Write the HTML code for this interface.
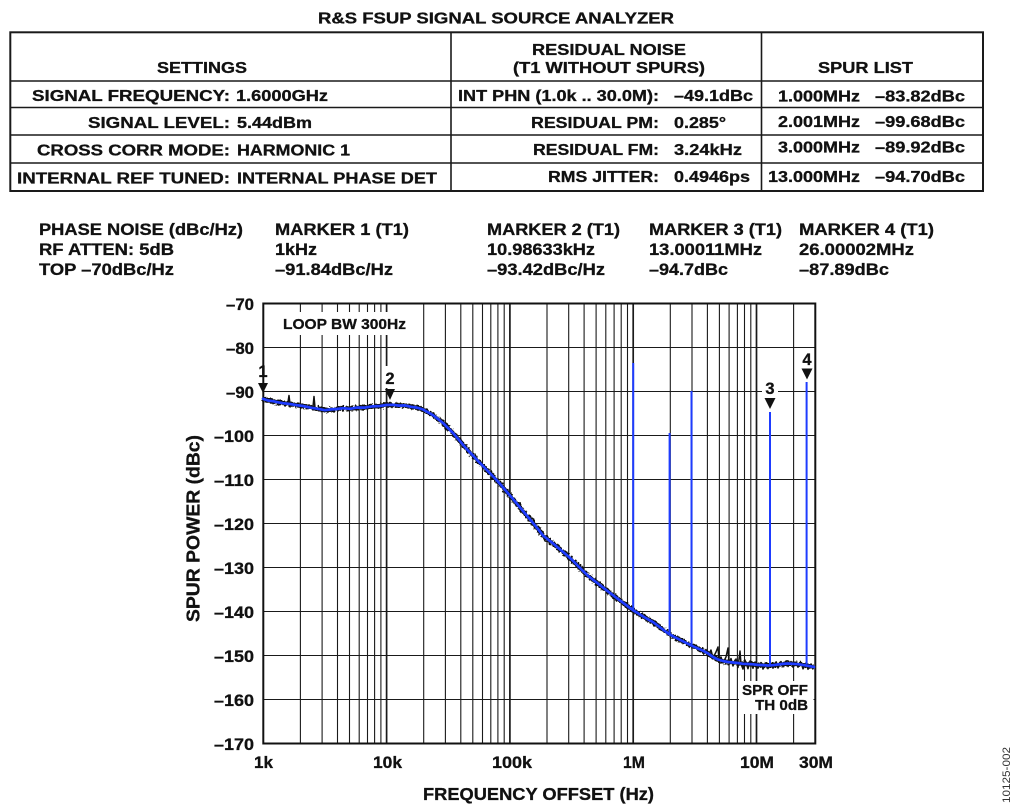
<!DOCTYPE html>
<html>
<head>
<meta charset="utf-8">
<style>
html,body{margin:0;padding:0;background:#fff;}
svg{display:block;}
.b{stroke:#111;stroke-width:0.3px;}
</style>
</head>
<body>
<svg width="1024" height="811" viewBox="0 0 1024 811" xmlns="http://www.w3.org/2000/svg" font-family="'Liberation Sans', Arial, sans-serif" font-weight="bold" fill="#111">
<defs>
  <filter id="rough" filterUnits="userSpaceOnUse" x="240" y="370" width="600" height="320">
    <feTurbulence type="fractalNoise" baseFrequency="0.45" numOctaves="2" seed="3" result="n"/>
    <feDisplacementMap in="SourceGraphic" in2="n" scale="5" xChannelSelector="R" yChannelSelector="G"/>
  </filter>
</defs>
<rect x="0" y="0" width="1024" height="811" fill="#fff"/>

<!-- Title -->
<text class="b" x="318" y="23.5" font-size="15.5" textLength="356" lengthAdjust="spacingAndGlyphs">R&amp;S FSUP SIGNAL SOURCE ANALYZER</text>

<!-- Table -->
<g stroke="#1a1a1a" fill="none">
  <rect x="10.3" y="32.3" width="972.7" height="158.7" stroke-width="2"/>
  <line x1="10" y1="81" x2="983" y2="81" stroke-width="1.6"/>
  <line x1="10" y1="107.5" x2="983" y2="107.5" stroke-width="1.6"/>
  <line x1="10" y1="135" x2="983" y2="135" stroke-width="1.6"/>
  <line x1="10" y1="163" x2="983" y2="163" stroke-width="1.6"/>
  <line x1="451" y1="32" x2="451" y2="191" stroke-width="1.6"/>
  <line x1="761.5" y1="32" x2="761.5" y2="191" stroke-width="1.6"/>
</g>
<g font-size="15.5" class="b">
  <text x="157" y="73" textLength="90" lengthAdjust="spacingAndGlyphs">SETTINGS</text>
  <text x="532" y="55" textLength="154" lengthAdjust="spacingAndGlyphs">RESIDUAL NOISE</text>
  <text x="513" y="73" textLength="192" lengthAdjust="spacingAndGlyphs">(T1 WITHOUT SPURS)</text>
  <text x="818" y="73" textLength="95" lengthAdjust="spacingAndGlyphs">SPUR LIST</text>

  <text x="32" y="101" textLength="198" lengthAdjust="spacingAndGlyphs">SIGNAL FREQUENCY:</text>
  <text x="236" y="101" textLength="92" lengthAdjust="spacingAndGlyphs">1.6000GHz</text>
  <text x="458" y="101" textLength="201" lengthAdjust="spacingAndGlyphs">INT PHN (1.0k .. 30.0M):</text>
  <text x="674" y="101" textLength="79" lengthAdjust="spacingAndGlyphs">–49.1dBc</text>
  <text x="778" y="101.5" textLength="82" lengthAdjust="spacingAndGlyphs">1.000MHz</text>
  <text x="875" y="101.5" textLength="90" lengthAdjust="spacingAndGlyphs">–83.82dBc</text>

  <text x="88" y="128" textLength="142" lengthAdjust="spacingAndGlyphs">SIGNAL LEVEL:</text>
  <text x="237" y="128" textLength="75" lengthAdjust="spacingAndGlyphs">5.44dBm</text>
  <text x="531" y="128" textLength="128" lengthAdjust="spacingAndGlyphs">RESIDUAL PM:</text>
  <text x="674" y="128" textLength="52" lengthAdjust="spacingAndGlyphs">0.285°</text>
  <text x="778" y="127" textLength="82" lengthAdjust="spacingAndGlyphs">2.001MHz</text>
  <text x="875" y="127" textLength="90" lengthAdjust="spacingAndGlyphs">–99.68dBc</text>

  <text x="37" y="155.5" textLength="193" lengthAdjust="spacingAndGlyphs">CROSS CORR MODE:</text>
  <text x="237" y="155.5" textLength="113" lengthAdjust="spacingAndGlyphs">HARMONIC 1</text>
  <text x="533" y="155" textLength="126" lengthAdjust="spacingAndGlyphs">RESIDUAL FM:</text>
  <text x="674" y="155" textLength="68" lengthAdjust="spacingAndGlyphs">3.24kHz</text>
  <text x="778" y="152.5" textLength="82" lengthAdjust="spacingAndGlyphs">3.000MHz</text>
  <text x="875" y="152.5" textLength="90" lengthAdjust="spacingAndGlyphs">–89.92dBc</text>

  <text x="17" y="183.5" textLength="213" lengthAdjust="spacingAndGlyphs">INTERNAL REF TUNED:</text>
  <text x="237" y="183.5" textLength="200" lengthAdjust="spacingAndGlyphs">INTERNAL PHASE DET</text>
  <text x="548" y="182" textLength="111" lengthAdjust="spacingAndGlyphs">RMS JITTER:</text>
  <text x="674" y="182" textLength="76" lengthAdjust="spacingAndGlyphs">0.4946ps</text>
  <text x="768" y="182" textLength="92" lengthAdjust="spacingAndGlyphs">13.000MHz</text>
  <text x="875" y="182" textLength="90" lengthAdjust="spacingAndGlyphs">–94.70dBc</text>
</g>

<!-- Marker header -->
<g font-size="17" class="b">
  <text x="39" y="235" textLength="204" lengthAdjust="spacingAndGlyphs">PHASE NOISE (dBc/Hz)</text>
  <text x="39" y="255" textLength="135" lengthAdjust="spacingAndGlyphs">RF ATTEN: 5dB</text>
  <text x="39" y="275" textLength="135" lengthAdjust="spacingAndGlyphs">TOP –70dBc/Hz</text>

  <text x="275" y="235" textLength="134" lengthAdjust="spacingAndGlyphs">MARKER 1 (T1)</text>
  <text x="275" y="255" textLength="42" lengthAdjust="spacingAndGlyphs">1kHz</text>
  <text x="275" y="275" textLength="118" lengthAdjust="spacingAndGlyphs">–91.84dBc/Hz</text>

  <text x="487" y="235" textLength="133" lengthAdjust="spacingAndGlyphs">MARKER 2 (T1)</text>
  <text x="487" y="255" textLength="108" lengthAdjust="spacingAndGlyphs">10.98633kHz</text>
  <text x="487" y="275" textLength="118" lengthAdjust="spacingAndGlyphs">–93.42dBc/Hz</text>

  <text x="649" y="235" textLength="133" lengthAdjust="spacingAndGlyphs">MARKER 3 (T1)</text>
  <text x="649" y="255" textLength="113" lengthAdjust="spacingAndGlyphs">13.00011MHz</text>
  <text x="649" y="275" textLength="79" lengthAdjust="spacingAndGlyphs">–94.7dBc</text>

  <text x="799" y="235" textLength="135" lengthAdjust="spacingAndGlyphs">MARKER 4 (T1)</text>
  <text x="799" y="255" textLength="115" lengthAdjust="spacingAndGlyphs">26.00002MHz</text>
  <text x="799" y="275" textLength="90" lengthAdjust="spacingAndGlyphs">–87.89dBc</text>
</g>

<!-- Grid -->
<g stroke="#1a1a1a" stroke-width="1.1" fill="none">
  <path d="M300.4 303.5V743.5M322.1 303.5V743.5M337.5 303.5V743.5M349.5 303.5V743.5M359.2 303.5V743.5M367.5 303.5V743.5M374.6 303.5V743.5M380.9 303.5V743.5
           M423.7 303.5V743.5M445.4 303.5V743.5M460.8 303.5V743.5M472.8 303.5V743.5M482.5 303.5V743.5M490.8 303.5V743.5M497.9 303.5V743.5M504.2 303.5V743.5
           M547 303.5V743.5M568.7 303.5V743.5M584.1 303.5V743.5M596.1 303.5V743.5M605.8 303.5V743.5M614.1 303.5V743.5M621.2 303.5V743.5M627.5 303.5V743.5
           M670.3 303.5V743.5M692 303.5V743.5M707.4 303.5V743.5M719.4 303.5V743.5M729.1 303.5V743.5M737.4 303.5V743.5M744.5 303.5V743.5M750.8 303.5V743.5
           M793.6 303.5V743.5"/>
  <path d="M263.3 347.5H815.3M263.3 391.5H815.3M263.3 435.5H815.3M263.3 479.5H815.3M263.3 523.5H815.3M263.3 567.5H815.3M263.3 611.5H815.3M263.3 655.5H815.3M263.3 699.5H815.3"/>
  <path stroke-width="1.7" d="M386.6 303.5V743.5M509.9 303.5V743.5M633.2 303.5V743.5M756.5 303.5V743.5"/>
</g>

<!-- white label boxes over grid -->
<g fill="#fff" stroke="none">
  <rect x="279" y="312" width="133" height="23"/>
  <rect x="382" y="366" width="16" height="22"/>
  <rect x="762" y="378" width="16" height="19"/>
  <rect x="799" y="349" width="15" height="19"/>
  <rect x="739" y="681" width="74.5" height="33"/>
</g>

<!-- Plot border -->
<rect x="263.3" y="303.5" width="552" height="440" fill="none" stroke="#111" stroke-width="2"/>

<!-- Black jagged halo (roughened copy of smoothed curve) -->
<polyline filter="url(#rough)" fill="none" stroke="#111" stroke-width="4.6" stroke-linejoin="round" points="263,398.8 268,400.5 273,401.2 278,402.3 283,403.2 290,404 297,405.2 303,406 310,407.6 318,408.8 325,410.2 331,409.4 337,409 343,408.2 350,408.8 357,407.6 365,407.6 372,406.4 380,406 386,405 393,404.8 399,405.6 405,405.4 411,406.8 417,407.6 423,409.5 428,412.3 433,415.2 438,419 443,423 448,428 453,433 458,438.8 463,444.8 468,450.4 473,455.6 478,460.9 483,466 488,471.2 493,476.3 498,481.6 503,487.4 508,493.2 513,499 518,505 523,511 528,517 533,523 538,529 543,535.5 548,539.4 553,543.4 558,547.7 563,551.9 568,556.1 573,560.8 578,565.9 583,570.9 588,575.8 593,579.7 598,583.6 603,587.5 608,591.4 613,595.2 618,599 623,602.7 628,606.5 633,610.2 638,613.2 643,616.4 648,619.3 653,622.1 658,625.8 663,629.6 668,633.3 673,636.3 678,638.8 683,641.3 688,643.8 693,646.3 698,648.5 703,650.7 708,653.4 713,657 718,659.5 723,661 728,662 733,662.5 738,663 743,663.8 748,664 753,664.3 758,664.9 763,665.1 768,665.5 773,665.2 778,664.5 783,663.9 788,663.5 793,663.8 798,664.2 803,664.9 808,665.8 813,667"/>

<!-- Black noisy trace -->
<polyline fill="none" stroke="#111" stroke-width="1.5" stroke-linejoin="round" points="263,398.4 266,401.5 268,402.2 271,400 273,403.7 276,400.5 278,404.4 281,401.8 283,404.6 286,402.5 288,402 289,395.5 290,404 293,406.2 296,403.8 298,407.1 301,404.5 303,407.7 306,405.2 308,408.5 311,405.5 313,406.8 314,396.5 315,407.5 318,410.4 321,407.2 323,410.9 326,408 328,411.9 331,407.9 333,411 336,408 338,410.9 341,406.5 343,410.2 346,407 348,410.5 351,406.8 353,410 356,406.5 358,410 361,405.5 363,409.1 366,405.8 368,408.8 371,404.3 373,408 376,404.6 378,407.9 381,403.8 383,407.2 386,403.5 388,406.9 391,403.2 393,406.6 396,403 398,406.9 401,403.6 403,407.5 406,404.4 408,408 411,404.8 413,409 416,405.8 418,410.3 421,406.5 423,411 426,409.2 428,413.8 431,412.6 433,416.8 436,416 438,421 441,420.5 443,424.5 446,425.8 448,429.8 451,430.5 453,434.5 456,435.5 458,440.8 461,441.2 463,447.1 466,446.8 468,451.9 471,452.8 473,457.3 476,457.9 478,462.9 481,463.5 483,468 486,468.2 488,472.7 491,473.5 493,478.1 496,478.6 498,482.8 501,484.8 503,489.2 506,490.5 508,494.7 511,496 513,500.8 516,502.2 518,506.4 521,508 523,512.4 526,514.4 528,518.8 531,520.2 533,524.5 536,526 538,530.8 541,532 543,536.5 545,541 548,541.5 551,542 553,544.9 556,546 558,549.2 561,550.3 563,553.4 566,554.5 568,557.6 571,558.7 573,562.3 576,563.5 578,567.4 581,568.8 583,572.4 586,573.5 588,577.3 591,578.3 593,581.5 596,582 598,585.1 601,585.9 603,589.3 606,589.7 608,592.9 611,593.5 613,597 616,597.5 618,600.5 621,601.3 623,604.5 626,605 628,608 631,608.7 633,612 636,612 638,614.7 641,614.8 643,618.2 646,617.6 648,620.9 651,620.4 653,624.1 656,624.3 658,627.6 661,628 663,631.1 666,631.6 668,635.1 671,634.6 673,638.1 676,637 678,640.3 681,639.5 683,643.3 686,642.5 688,645.6 691,644.8 693,647.8 696,646.5 698,650.5 701,648.5 703,653.2 706,649.5 708,655.9 711,650 713,658 716,652 718,647 719,661 721,657 723,663 726,657 728,648 729,663 731,658.5 733,666 736,659 738,667.5 740,651 741,664 743,669.1 745,660 748,668.7 750,661 753,668.3 755,662 758,668.2 761,662.5 763,669.1 766,663 768,668.5 771,663 773,668.2 776,662 778,668 781,661.5 783,666.9 786,661 788,666.5 791,661.5 793,667.3 796,662 798,667.2 801,662.5 803,668.9 806,663 808,669.3 811,664 813,669.3"/>

<!-- Blue smoothed trace -->
<polyline fill="none" stroke="#1e3cff" stroke-width="2.7" stroke-linejoin="round" stroke-linecap="round" points="263,398.8 268,400.5 273,401.2 278,402.3 283,403.2 290,404 297,405.2 303,406 310,407.6 318,408.8 325,410.2 331,409.4 337,409 343,408.2 350,408.8 357,407.6 365,407.6 372,406.4 380,406 386,405 393,404.8 399,405.6 405,405.4 411,406.8 417,407.6 423,409.5 428,412.3 433,415.2 438,419 443,423 448,428 453,433 458,438.8 463,444.8 468,450.4 473,455.6 478,460.9 483,466 488,471.2 493,476.3 498,481.6 503,487.4 508,493.2 513,499 518,505 523,511 528,517 533,523 538,529 543,535.5 548,539.4 553,543.4 558,547.7 563,551.9 568,556.1 573,560.8 578,565.9 583,570.9 588,575.8 593,579.7 598,583.6 603,587.5 608,591.4 613,595.2 618,599 623,602.7 628,606.5 633,610.2 638,613.2 643,616.4 648,619.3 653,622.1 658,625.8 663,629.6 668,633.3 673,636.3 678,638.8 683,641.3 688,643.8 693,646.3 698,648.5 703,650.7 708,653.4 713,657 718,659.5 723,661 728,662 733,662.5 738,663 743,663.8 748,664 753,664.3 758,664.9 763,665.1 768,665.5 773,665.2 778,664.5 783,663.9 788,663.5 793,663.8 798,664.2 803,664.9 808,665.8 814,667"/>

<!-- Spurs -->
<g stroke="#1e3cff" stroke-width="2">
  <line x1="633.2" y1="610" x2="633.2" y2="363"/>
  <line x1="669.6" y1="634" x2="669.6" y2="433"/>
  <line x1="691.5" y1="646" x2="691.5" y2="391"/>
  <line x1="770" y1="665" x2="770" y2="412"/>
  <line x1="806.6" y1="664" x2="806.6" y2="382"/>
</g>

<!-- Markers -->
<g fill="#111">
  <polygon points="258,383 268,383 263,393"/>
  <polygon points="385,389 395,389 390,400"/>
  <polygon points="764.5,398 775.5,398 770,409"/>
  <polygon points="801.5,368.5 812.5,368.5 807,379.5"/>
</g>
<g font-size="16.5" text-anchor="middle" class="b">
  <text x="263" y="377">1</text>
  <text x="390" y="384">2</text>
  <text x="770" y="394">3</text>
  <text x="807" y="365">4</text>
</g>

<!-- In-plot annotations -->
<g font-size="15" class="b">
  <text x="283" y="329" textLength="123" lengthAdjust="spacingAndGlyphs">LOOP BW 300Hz</text>
  <text x="742" y="695" textLength="66" lengthAdjust="spacingAndGlyphs">SPR OFF</text>
  <text x="755" y="710" textLength="53" lengthAdjust="spacingAndGlyphs">TH 0dB</text>
</g>

<!-- Y tick labels -->
<g font-size="16.5" class="b">
  <text x="226" y="310" textLength="28" lengthAdjust="spacingAndGlyphs">–70</text>
  <text x="226" y="354" textLength="28" lengthAdjust="spacingAndGlyphs">–80</text>
  <text x="226" y="398" textLength="28" lengthAdjust="spacingAndGlyphs">–90</text>
  <text x="214" y="442" textLength="40" lengthAdjust="spacingAndGlyphs">–100</text>
  <text x="214" y="486" textLength="40" lengthAdjust="spacingAndGlyphs">–110</text>
  <text x="214" y="530" textLength="40" lengthAdjust="spacingAndGlyphs">–120</text>
  <text x="214" y="574" textLength="40" lengthAdjust="spacingAndGlyphs">–130</text>
  <text x="214" y="618" textLength="40" lengthAdjust="spacingAndGlyphs">–140</text>
  <text x="214" y="662" textLength="40" lengthAdjust="spacingAndGlyphs">–150</text>
  <text x="214" y="706" textLength="40" lengthAdjust="spacingAndGlyphs">–160</text>
  <text x="214" y="750" textLength="40" lengthAdjust="spacingAndGlyphs">–170</text>
</g>

<!-- X tick labels -->
<g font-size="16.5" class="b">
  <text x="254" y="768" textLength="19" lengthAdjust="spacingAndGlyphs">1k</text>
  <text x="373" y="768" textLength="29" lengthAdjust="spacingAndGlyphs">10k</text>
  <text x="492" y="768" textLength="40" lengthAdjust="spacingAndGlyphs">100k</text>
  <text x="623" y="768" textLength="22" lengthAdjust="spacingAndGlyphs">1M</text>
  <text x="740" y="768" textLength="34" lengthAdjust="spacingAndGlyphs">10M</text>
  <text x="799" y="768" textLength="34" lengthAdjust="spacingAndGlyphs">30M</text>
</g>

<!-- Axis titles -->
<text class="b" x="423" y="800" font-size="17.5" textLength="231" lengthAdjust="spacingAndGlyphs">FREQUENCY OFFSET (Hz)</text>
<text class="b" transform="translate(199.5,622) rotate(-90)" x="0" y="0" font-size="18" textLength="187" lengthAdjust="spacingAndGlyphs">SPUR POWER (dBc)</text>

<!-- Figure ID -->
<text transform="translate(1010,803) rotate(-90)" x="0" y="0" font-size="11" font-weight="normal" fill="#333" textLength="56" lengthAdjust="spacingAndGlyphs">10125-002</text>
</svg>
</body>
</html>
